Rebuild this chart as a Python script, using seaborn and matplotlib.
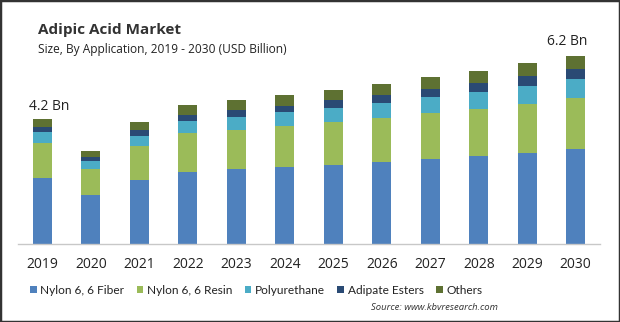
import matplotlib
matplotlib.use("Agg")
import matplotlib.pyplot as plt
from matplotlib.patches import Patch, Rectangle
import seaborn as sns
import pandas as pd
import numpy as np

years = ["2019", "2020", "2021", "2022", "2023", "2024", "2025", "2026", "2027", "2028", "2029", "2030"]
nylon_fiber = [2.23, 1.65, 2.16, 2.42, 2.53, 2.60, 2.65, 2.76, 2.87, 2.97, 3.06, 3.19]
nylon_resin = [1.16, 0.87, 1.14, 1.31, 1.31, 1.38, 1.44, 1.48, 1.53, 1.57, 1.66, 1.71]
polyurethane = [0.38, 0.28, 0.34, 0.41, 0.44, 0.46, 0.48, 0.51, 0.55, 0.58, 0.60, 0.65]
adipate_esters = [0.17, 0.13, 0.19, 0.20, 0.22, 0.20, 0.26, 0.26, 0.26, 0.30, 0.33, 0.33]
others = [0.27, 0.19, 0.27, 0.33, 0.34, 0.37, 0.34, 0.37, 0.40, 0.39, 0.44, 0.45]
segment_names = ["Nylon 6, 6 Fiber", "Nylon 6, 6 Resin", "Polyurethane", "Adipate Esters", "Others"]
colors = ["#4F81BD", "#9BBB59", "#4BACC6", "#2A4A74", "#5E7132"]
annotations = {"2019": "4.2 Bn", "2030": "6.2 Bn"}

sns.set_style("white")
plt.rcParams["font.family"] = ["Open Sans", "DejaVu Sans"]

series = [nylon_fiber, nylon_resin, polyurethane, adipate_esters, others]
cum = np.cumsum(np.array(series), axis=0)

fig = plt.figure(figsize=(6.2, 3.22), dpi=100)
ax = fig.add_axes([18 / 620, 1 - 244 / 322, 582 / 620, 214 / 322])

for i in range(len(series) - 1, -1, -1):
    df = pd.DataFrame({"year": years, "value": cum[i]})
    sns.barplot(data=df, x="year", y="value", order=years, color=colors[i],
                saturation=1, width=0.39, ax=ax, errorbar=None, linewidth=0)

ax.set_xlim(-0.5, len(years) - 0.5)
ax.set_ylim(0, 214 / 29.76)
ax.set_xlabel("")
ax.set_ylabel("")
ax.set_yticks([])
for s in ["top", "right", "left"]:
    ax.spines[s].set_visible(False)
ax.spines["bottom"].set_color("#C8C8C8")
ax.spines["bottom"].set_linewidth(1)
ax.tick_params(axis="x", length=0, pad=9, labelsize=10, labelcolor="#222222")

ax.text(0.14, 4.61, annotations["2019"], ha="center", va="center", fontsize=10, color="#222222")
ax.text(10.83, 6.79, annotations["2030"], ha="center", va="center", fontsize=10, color="#222222")

fig.text(38 / 620, 1 - 30 / 322, "Adipic Acid Market", fontsize=11, fontweight="bold",
         color="#333333", ha="left", va="center")
fig.text(38 / 620, 1 - 49 / 322, "Size, By Application, 2019 - 2030 (USD Billion)", fontsize=8.6,
         color="#222222", ha="left", va="center")

handles = [Patch(facecolor=c, edgecolor="none") for c in colors]
fig.legend(handles, segment_names, loc="center left", bbox_to_anchor=(30 / 620, 1 - 290 / 322),
           ncol=5, frameon=False, prop={"family": ["Lato", "DejaVu Sans"], "size": 8.6},
           handlelength=0.55, handleheight=0.55,
           handletextpad=0.3, columnspacing=1.05, borderpad=0, borderaxespad=0,
           labelcolor="#222222")

fig.text(498 / 620, 1 - 307 / 322, "Source: www.kbvresearch.com", fontsize=6.8, style="italic",
         color="#333333", ha="right", va="center")

fig.patches.append(Rectangle((0, 0), 1, 1, transform=fig.transFigure, fill=False,
                             edgecolor="#333333", linewidth=2.5, zorder=10))

fig.savefig("out.png", dpi=100)
